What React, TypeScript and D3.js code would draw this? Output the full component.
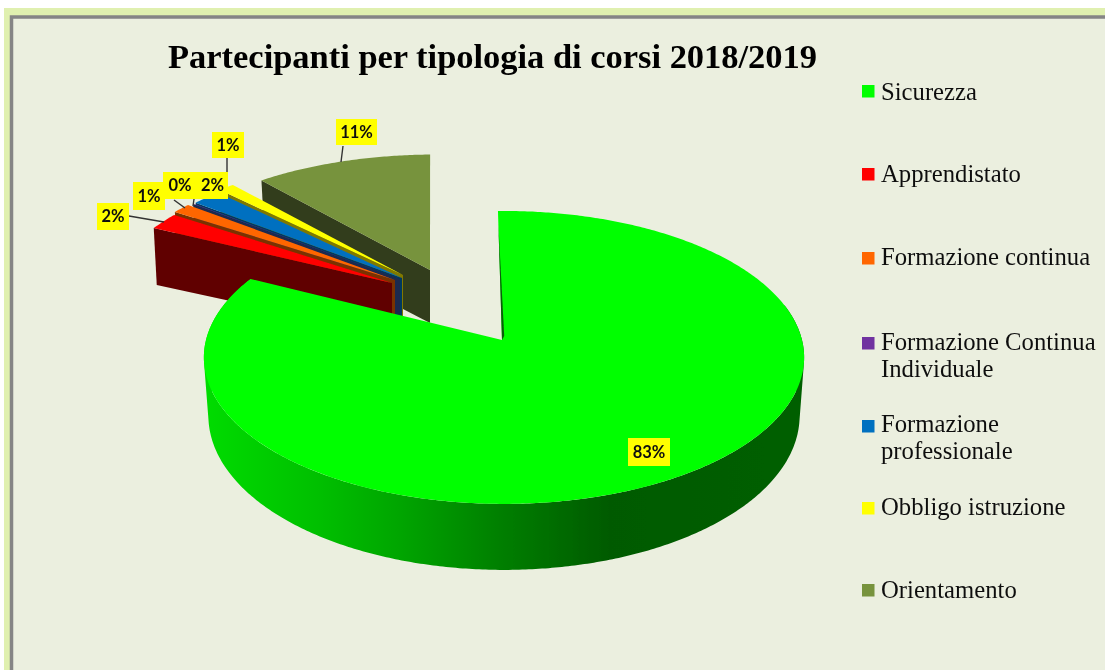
import React from "react";
import * as d3 from "d3";

const categories = ["Sicurezza", "Apprendistato", "Formazione continua", "Formazione Continua Individuale", "Formazione professionale", "Obbligo istruzione", "Orientamento"];
const shares = [82.7, 2.1, 1.2, 0.05, 1.9, 1.05, 11.0];
const labels = ["83%", "2%", "1%", "0%", "2%", "1%", "11%"];
const topColors = ["#00FF00", "#FF0000", "#FF6600", "#7030A0", "#0070C0", "#FFFF00", "#77933C"];
const wallColors = ["#005A00", "#600000", "#7A3300", "#1A2A50", "#003860", "#807800", "#333D1B"];
const legendLines = [["Sicurezza"], ["Apprendistato"], ["Formazione continua"], ["Formazione Continua", "Individuale"], ["Formazione", "professionale"], ["Obbligo istruzione"], ["Orientamento"]];

// layout
const W = 1105, H = 670;
const apexes: [number, number][] = [[502, 340], [392, 283], [395, 280], [400, 279], [402, 278], [403, 275], [430, 270]];
const scales: [number, number][] = [[1, 1], [0.94, 0.9], [0.95, 0.9], [0.95, 0.9], [0.95, 0.9], [0.95, 0.9], [0.975, 0.895]];
const rimShift = [2, 0, 0, 0, 0, 0, 6];
const R = 298, S = 144.4, K = 0.119;
const labelBoxes = [[628, 438, 42, 28], [97, 203, 32, 27], [133, 182, 32, 28], [163, 172, 34, 27], [197, 172, 31, 27], [212, 132, 32, 26], [336, 119, 41, 26]];
const leaders = [null, [129, 216, 164, 222], [174, 200, 185, 208], [194, 199, 193, 206], null, [227, 158, 227, 172], [343, 146, 341, 162]];
const legendSwatchY = [85, 168, 252, 337, 420, 502, 584];
const legendBaseY = [100, 182, 265, 350, 432, 515, 598];

const pieGen = d3.pie<number>().sort(null).startAngle((-1.3 * Math.PI) / 180).endAngle(((360 - 1.3) * Math.PI) / 180);
const arcs = pieGen(shares);

function rim(i: number, a: number): [number, number] {
  const u = Math.sin(a), v = Math.cos(a), w = 1 + K * v;
  const [ax, ay] = apexes[i], [sx, sy] = scales[i];
  return [ax + rimShift[i] + (sx * R * u) / w, ay - (sy * S * v) / w];
}
function angles(a0: number, a1: number) {
  const n = Math.max(2, Math.ceil(Math.abs(a1 - a0) / 0.01));
  return d3.range(n + 1).map((k) => a0 + ((a1 - a0) * k) / n);
}
const lineGen = d3.line<[number, number]>().curve(d3.curveLinear);
const close = (p: [number, number][]) => lineGen(p) + "Z";

const CX = 504;
function lower(p: [number, number], a: number): [number, number] {
  const d = 57 - 9 * Math.cos(a);
  return [CX + (p[0] - CX) * 0.985, p[1] + d];
}
// every quad gets the same winding, so one path fills their union without seams
function wallPath(as: number[]) {
  return as.slice(1).map((a, k) => {
    const a0 = as[k];
    const t0 = rim(0, a0), t1 = rim(0, a);
    const quad: [number, number][] = [t0, t1, lower(t1, a), lower(t0, a0)];
    if (d3.polygonArea(quad) < 0) quad.reverse();
    return close(quad);
  }).join("");
}

export default function App() {
  const green = arcs[0];
  const gAngles = angles(Math.PI * 0.42, green.endAngle);
  const DEPTH = 53;
  const order = d3.range(arcs.length).slice(1).reverse();
  const x = d3.scaleLinear().domain([204, 804]).range([0, 1]);
  const apex0 = apexes[0];
  const gs = rim(0, green.startAngle);
  const along = d3.interpolateArray(apex0 as number[], gs as number[]);
  const sliver: [number, number][] = [apex0, along(0.9) as [number, number], [apex0[0] + 2.2, apex0[1] - 4]];
  return (
    <svg width={W} height={H} style={{ position: "absolute", left: 0, top: 0, background: "#fff" }} xmlns="http://www.w3.org/2000/svg">
      <defs>
        <linearGradient id="gw" gradientUnits="userSpaceOnUse" x1={204} x2={804} y1={0} y2={0}>
          {[[204, "#00DC00"], [320, "#00BF00"], [400, "#00A500"], [500, "#007F00"], [610, "#005A00"], [804, "#005F00"]].map(([p, c]) => (
            <stop key={p as number} offset={x(p as number)} stopColor={c as string} />
          ))}
        </linearGradient>
        <filter id="soft" x="-5%" y="-5%" width="110%" height="110%">
          <feGaussianBlur stdDeviation="0.55" />
        </filter>
      </defs>
      <g filter="url(#soft)">
        <rect x={4} y={8} width={W} height={H} fill="#E0F0B0" />
        <rect x={11.5} y={17} width={W} height={H} fill="#EBEFDF" stroke="#858585" strokeWidth={3.5} />
        {order.map((i) => {
          const d = arcs[i];
          const ap = apexes[i];
          const s0 = rim(i, d.startAngle);
          const wall: [number, number][] = [s0, ap, [ap[0], ap[1] + DEPTH], [s0[0] + 3, s0[1] + DEPTH + 4]];
          const top: [number, number][] = [ap, ...angles(d.startAngle, d.endAngle).map((a) => rim(i, a))];
          return (
            <g key={i}>
              <path d={close(wall)} fill={wallColors[i]} />
              <path d={close(top)} fill={topColors[i]} />
            </g>
          );
        })}
        <path d={wallPath(gAngles)} fill="url(#gw)" />
        <path d={close([apex0, ...angles(green.startAngle, green.endAngle).map((a) => rim(0, a))])} fill={topColors[0]} />
        <path d={close(sliver)} fill="#0A5A0A" />
        {leaders.map((l, i) => l && <line key={i} x1={l[0]} y1={l[1]} x2={l[2]} y2={l[3]} stroke="#333" strokeWidth={1.4} />)}
        {labelBoxes.map((b, i) => (
          <g key={i}>
            <rect x={b[0]} y={b[1]} width={b[2]} height={b[3]} fill="#FFFF00" />
            <text x={b[0] + b[2] / 2} y={b[1] + b[3] / 2 + 5.5} textAnchor="middle" fontFamily="Lato" fontWeight={700} fontSize={16.5} fill="#111">{labels[i]}</text>
          </g>
        ))}
        <text x={168} y={68} fontFamily="Liberation Serif" fontWeight={700} fontSize={34.5} textLength={649} lengthAdjust="spacing" fill="#000">Partecipanti per tipologia di corsi 2018/2019</text>
        {categories.map((c, i) => (
          <g key={c}>
            <rect x={862} y={legendSwatchY[i]} width={12.5} height={12.5} fill={topColors[i]} />
            {legendLines[i].map((t, k) => (
              <text key={k} x={881} y={legendBaseY[i] + k * 27} fontFamily="Liberation Serif" fontSize={24.7} fill="#111">{t}</text>
            ))}
          </g>
        ))}
      </g>
    </svg>
  );
}
